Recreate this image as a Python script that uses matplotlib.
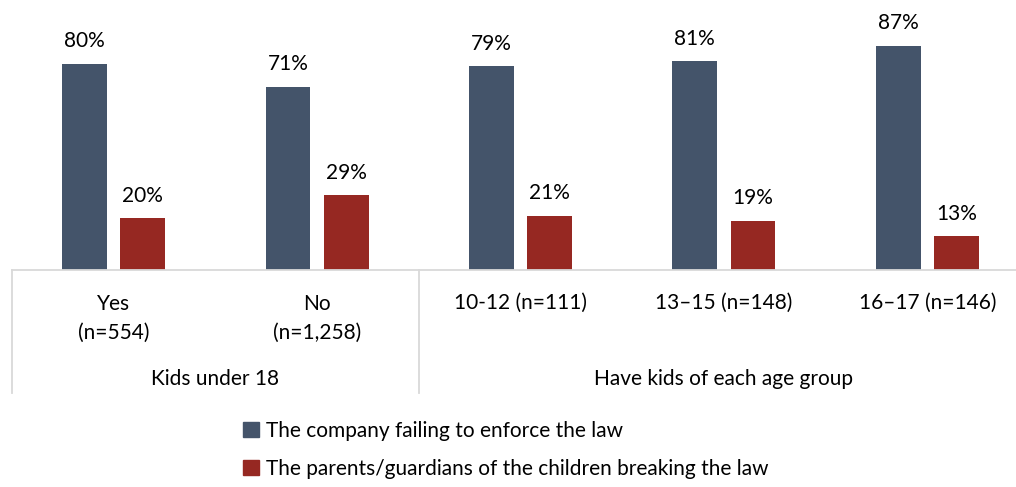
import matplotlib
matplotlib.use("Agg")
import matplotlib.pyplot as plt
from matplotlib.patches import Patch
from matplotlib.transforms import blended_transform_factory

plt.rcParams['font.family'] = ['Lato', 'DejaVu Sans']

# data
categories = ["Yes\n(n=554)", "No\n(n=1,258)", "10-12 (n=111)", "13\u201315 (n=148)", "16\u201317 (n=146)"]
groups = ["Kids under 18", "Have kids of each age group"]
group_spans = [(0, 2), (2, 5)]
company = [80, 71, 79, 81, 87]
parents = [20, 29, 21, 19, 13]
series_names = ["The company failing to enforce the law",
                "The parents/guardians of the children breaking the law"]

DARK = "#44546A"
RED = "#962822"
GRID = "#D9D9D9"
W, H = 1016, 487

fig = plt.figure(figsize=(W / 100, H / 100), dpi=100)
ax = fig.add_axes([12 / W, 1 - 270 / H, 1017 / W, 270 / H])

x = [i + 0.5 for i in range(len(categories))]
bw = 0.221
off = 0.143
b1 = ax.bar([v - off for v in x], company, bw, color=DARK)
b2 = ax.bar([v + off for v in x], parents, bw, color=RED)
ax.bar_label(b1, fmt='%d%%', padding=9, fontsize=15)
ax.bar_label(b2, fmt='%d%%', padding=9, fontsize=15)

ax.set_xlim(0, 5)
ax.set_ylim(0, 270 / 2.58)
for s in ["top", "left", "right"]:
    ax.spines[s].set_visible(False)
ax.spines["bottom"].set_color(GRID)
ax.spines["bottom"].set_linewidth(1.3)
ax.set_xticks([])
ax.set_yticks([])

tr = blended_transform_factory(ax.transData, fig.transFigure)

def fy(px):
    return 1 - px / H

# category labels
for i, lab in enumerate(categories):
    if "\n" in lab:
        ax.text(x[i], fy(318), lab, transform=tr, ha="center", va="center",
                fontsize=15, linespacing=1.55)
    else:
        ax.text(x[i], fy(303), lab, transform=tr, ha="center", va="center", fontsize=15)

# group labels and separators
for g, (a, b) in zip(groups, group_spans):
    ax.text((a + b) / 2, fy(379), g, transform=tr, ha="center", va="center", fontsize=15)
for xs in [0, 2, 5]:
    ax.plot([xs, xs], [fy(270), fy(393)], transform=tr, color=GRID, lw=1.3, clip_on=False)

handles = [Patch(color=DARK), Patch(color=RED)]
fig.legend(handles, series_names, loc="upper left", bbox_to_anchor=(243 / W, fy(421)),
           frameon=False, fontsize=15, handlelength=0.75, handleheight=0.75,
           handletextpad=0.35, labelspacing=0.85, borderaxespad=0, borderpad=0)

fig.savefig("out.png", dpi=100)
